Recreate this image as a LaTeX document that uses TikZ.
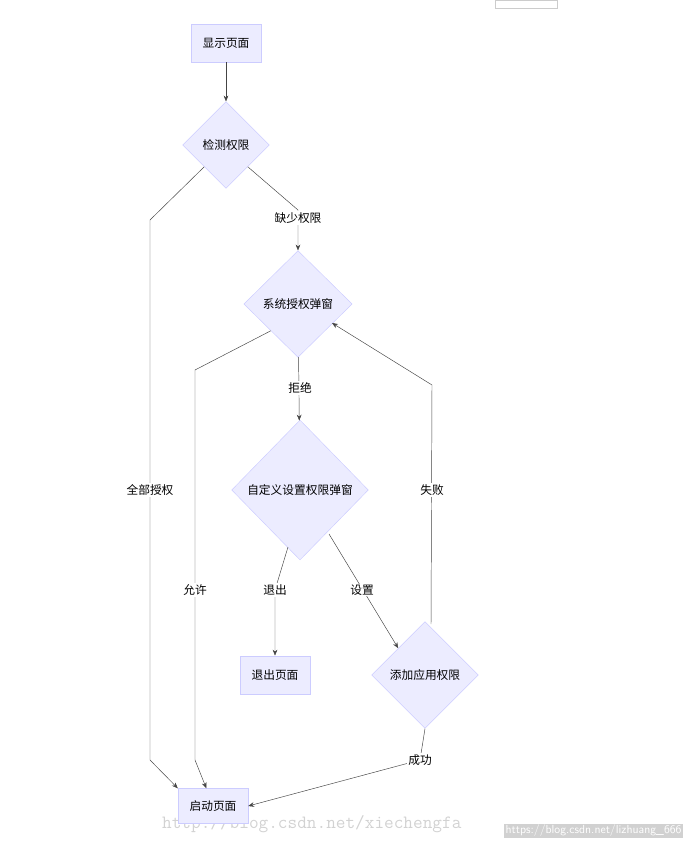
\documentclass[tikz,border=0pt]{standalone}
\usepackage{fontspec}
\newfontfamily\cjk{Noto Sans CJK SC}
\usetikzlibrary{shapes.geometric,arrows.meta}
\definecolor{nodefill}{HTML}{ECECFF}
\definecolor{nodeline}{HTML}{CCCCFF}
\definecolor{edgeline}{HTML}{444444}
\tikzset{
  pagebox/.style={draw=nodeline, fill=nodefill, minimum width=2.1cm, minimum height=1.15cm, font=\cjk\fontsize{10}{12}\selectfont},
  checkbox/.style={draw=nodeline, fill=nodefill, diamond, inner sep=0pt, font=\cjk\fontsize{10}{12}\selectfont},
  flow/.style={draw=edgeline, thin, -{Stealth[length=5pt,width=4pt]}},
  flowlabel/.style={fill=white, inner sep=1pt, font=\cjk\fontsize{10}{12}\selectfont}
}
\begin{document}
\begin{tikzpicture}[x=0.03cm, y=-0.03cm]
  \useasboundingbox (0,0) rectangle (685,848);
  % page corner box
  \draw[gray!40] (495,0) rectangle (557,8);

  % watermarks
  \node[text=gray!35, font=\ttfamily\fontsize{16}{18}\selectfont, anchor=west] (mark) at (158,824) {http://blog.csdn.net/xiechengfa};
  \node[text=white, fill=gray!60, fill opacity=0.6, text opacity=1, font=\sffamily\fontsize{10}{12}\selectfont, anchor=east, inner sep=1pt] (mark2) at (683,831) {https://blog.csdn.net/lizhuang\_666};

  % nodes
  \node[pagebox] (show) at (226,43) {显示页面};
  \node[checkbox, minimum width=2.6cm, minimum height=2.6cm] (check) at (226,145) {检测权限};
  \node[checkbox, minimum width=3.25cm, minimum height=3.2cm] (sys) at (298,304) {系统授权弹窗};
  \node[checkbox, minimum width=4.1cm, minimum height=4.2cm] (custom) at (300,490) {自定义设置权限弹窗};
  \node[pagebox] (quit) at (275,675) {退出页面};
  \node[checkbox, minimum width=3.2cm, minimum height=3.2cm] (add) at (425,675) {添加应用权限};
  \node[pagebox, minimum height=1.05cm] (start) at (213,806) {启动页面};

  % connectors
  \draw[flow] (show) -- (check);
  \draw[flow] (check.south east) -- (298,210) -- (sys.north);
  \node[flowlabel] at (298,218) {缺少权限};
  \draw[flow] (check.south west) -- (150,220) -- (150,760) -- (start.north west);
  \node[flowlabel] at (150,490) {全部授权};
  \draw[flow] (sys.south west) -- (195,370) -- (195,760) -- ([xshift=-0.2cm]start.north);
  \node[flowlabel] at (195,590) {允许};
  \draw[flow] (sys) -- (custom);
  \node[flowlabel] at (300,388) {拒绝};
  \draw[flow] (288,547) -- (275,590) -- (quit.north);
  \node[flowlabel] at (275,590) {退出};
  \draw[flow] (329,534) -- (add.north west);
  \node[flowlabel] at (362,590) {设置};
  \draw[flow] (431,624) -- (432,385) -- (332,323);
  \node[flowlabel] at (432,490) {失败};
  \draw[flow] (add.south) -- (420,760) -- (start.east);
  \node[flowlabel] at (420,760) {成功};
\end{tikzpicture}
\end{document}
